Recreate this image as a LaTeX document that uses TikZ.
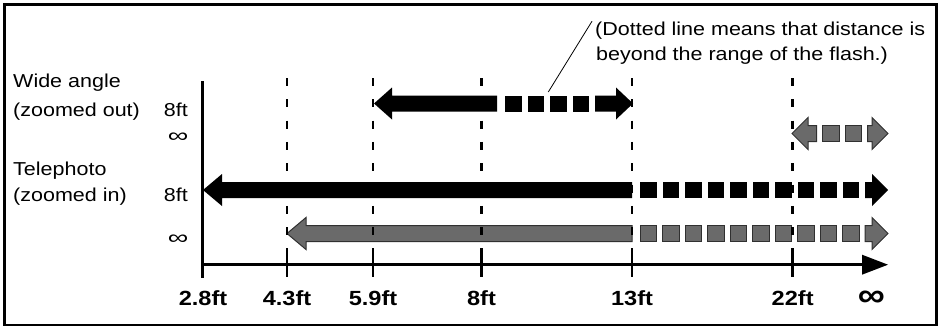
\documentclass[tikz,border=0pt]{standalone}
\usepackage{fontspec}
\setmainfont{Liberation Sans}[FakeStretch=1.15]
\definecolor{gfill}{HTML}{6A6A6A}
\definecolor{gline}{HTML}{303030}
\newcommand\arrowLeft[5]{% tip, back, shaft end, y, style
  \path[#5] (#1,#4) -- (#2,#4-16) -- (#2,#4-8) -- (#3,#4-8) -- (#3,#4+8) -- (#2,#4+8) -- (#2,#4+16) -- cycle;}
\newcommand\arrowRight[5]{% stub start, back, tip, y, style
  \path[#5] (#1,#4-8) -- (#2,#4-8) -- (#2,#4-16) -- (#3,#4) -- (#2,#4+16) -- (#2,#4+8) -- (#1,#4+8) -- cycle;}
\begin{document}
\begin{tikzpicture}[x=1pt,y=-1pt,
  blk/.style={fill=black},
  gry/.style={fill=gfill,draw=gline,line width=1pt},
  dline/.style={line width=2.8pt,dash pattern=on 8pt off 13.3pt},
  tick/.style={line width=2.8pt},
  lab/.style={inner sep=0pt,font=\fontsize{18.7}{22}\selectfont},
  inf/.style={inner sep=0pt,font=\fontsize{20}{24}\selectfont},
  blab/.style={inner sep=0pt,anchor=base,font=\fontsize{20.5}{24}\selectfont\bfseries}]
\useasboundingbox (0,0) rectangle (943,327);
\draw[line width=2.5pt] (4.5,4.5) rectangle (936.5,325);

% left labels
\node[lab,anchor=base west] (wide) at (13,87.3) {Wide angle};
\node[lab,anchor=base west] (wout) at (13,116.5) {(zoomed out)};
\node[lab,anchor=base east] (w8) at (188,116.5) {8ft};
\node[inf,anchor=base east] (winf) at (188.5,142.5) {\scalebox{1.25}[1]{∞}};
\node[lab,anchor=base west] (tele) at (13,175) {Telephoto};
\node[lab,anchor=base west] (tin) at (13,201.5) {(zoomed in)};
\node[lab,anchor=base east] (t8) at (188,201.5) {8ft};
\node[inf,anchor=base east] (tinf) at (188.5,244.5) {\scalebox{1.25}[1]{∞}};

% note
\node[lab,anchor=base west] (note1) at (595,35) {(Dotted line means that distance is};
\node[lab,anchor=base west] (note2) at (596,60) {beyond the range of the flash.)};
\coordinate (ldr) at (548.3,92);
\draw[line width=0.8pt] (ldr) -- ([xshift=-3pt]note1.north west);

% row 1: wide angle 8ft
\arrowLeft{374}{392}{497}{103.5}{blk}
\foreach \k in {0,...,3} \fill (505+22.5*\k,95.5) rectangle ++(16.5,16);
\arrowRight{595}{616}{633}{103.5}{blk}

% row 2: wide angle infinity
\arrowLeft{792}{808}{816.5}{133.5}{gry}
\foreach \k in {0,1} \path[gry] (822.5+22.5*\k,125.5) rectangle ++(16.5,16);
\arrowRight{867.5}{872}{888}{133.5}{gry}

% row 3: telephoto 8ft
\arrowLeft{203}{222}{632}{190}{blk}
\foreach \k in {0,...,9} \fill (640+22.5*\k,182) rectangle ++(16.5,16);
\arrowRight{865}{872}{888}{190}{blk}

% row 4: telephoto infinity
\arrowLeft{287}{306}{632}{233.5}{gry}
\foreach \k in {0,...,9} \path[gry] (640+22.5*\k,225.5) rectangle ++(16.5,16);
\arrowRight{865}{872}{888}{233.5}{gry}

% axes
\draw[line width=3pt] (202,81) -- (202,278);
\draw[line width=3pt] (202,264.7) -- (864,264.7);
\fill (862,254.7) -- (888,264.7) -- (862,274.7) -- cycle;

% dashed lines and ticks
\foreach \x in {287,373,481.5,632,792.7} {
  \draw[dline] (\x,78) -- (\x,250);
  \draw[tick] (\x,250) -- (\x,277);
}

% tick labels
\node[blab] (l1) at (203,305) {2.8ft};
\node[blab] (l2) at (287,305) {4.3ft};
\node[blab] (l3) at (373,305) {5.9ft};
\node[blab] (l4) at (481.5,305) {8ft};
\node[blab] (l5) at (632,305) {13ft};
\node[blab] (l6) at (792.7,305) {22ft};
\node[blab,font=\fontsize{33}{36}\selectfont\bfseries] (l7) at (871.5,306) {∞};
\end{tikzpicture}
\end{document}
